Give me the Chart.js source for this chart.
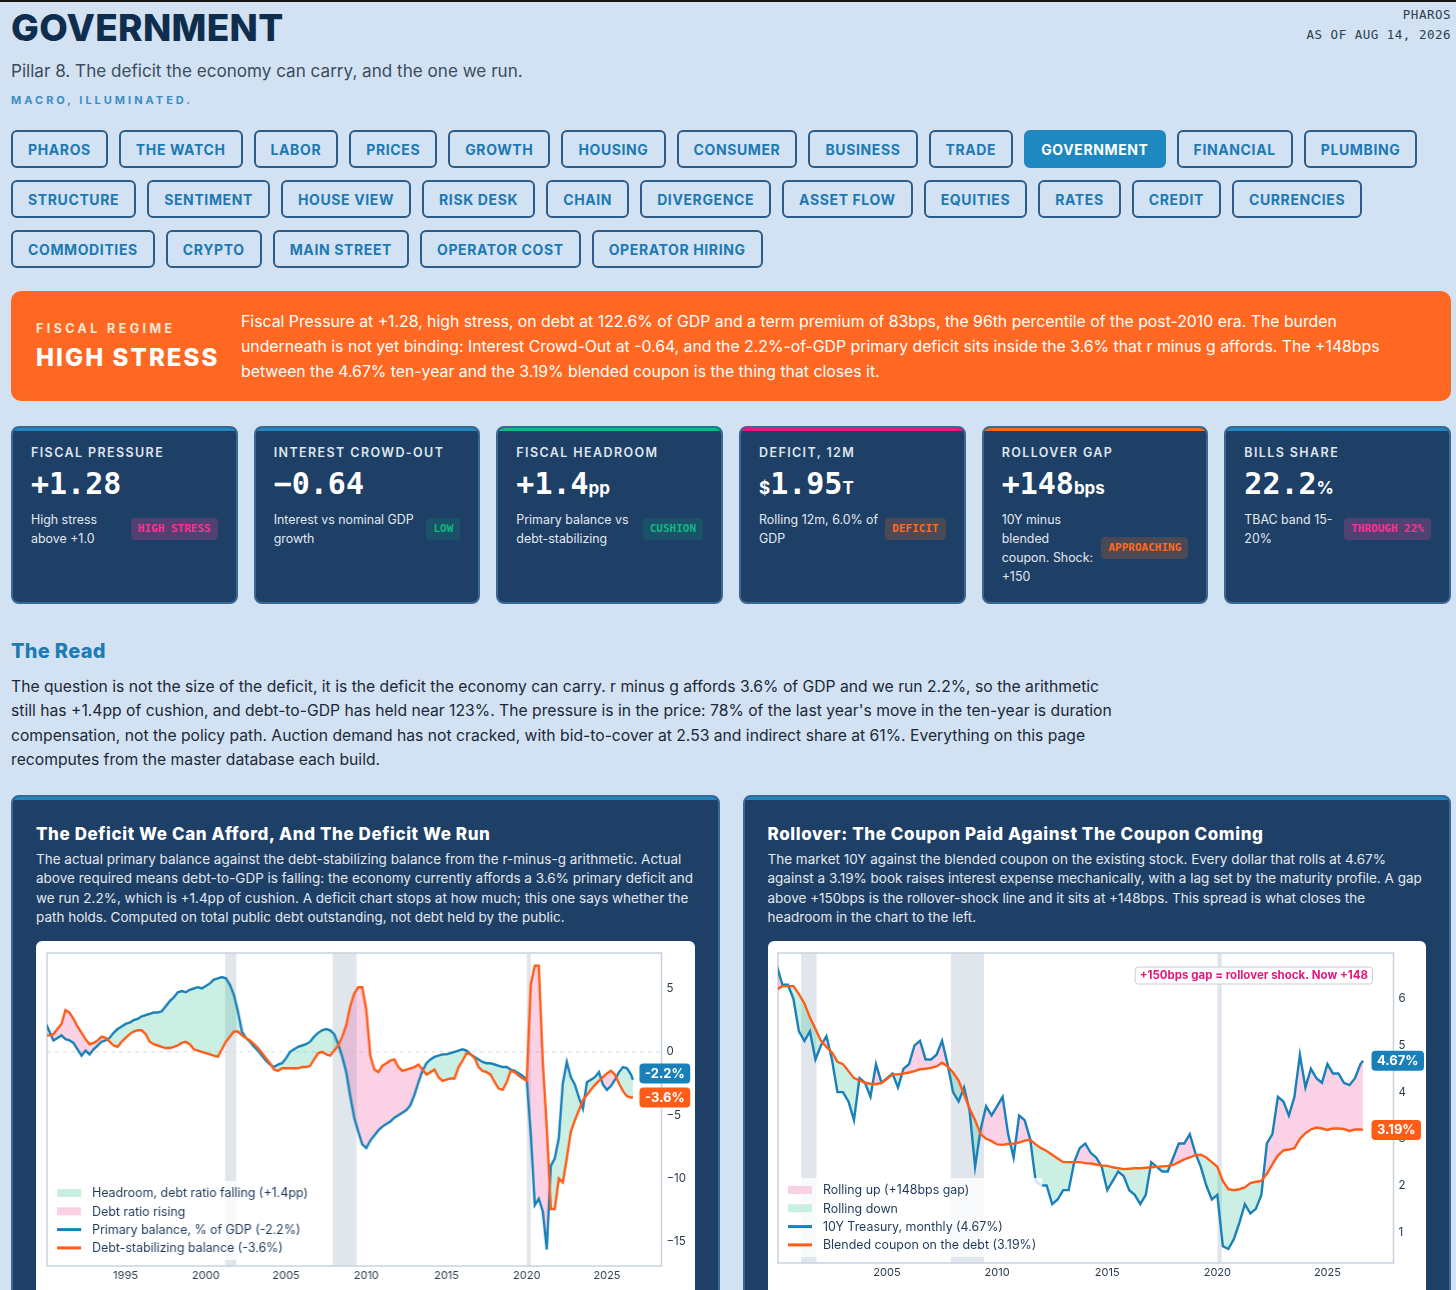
<!DOCTYPE html>
<html lang="en">
<head>
<meta charset="utf-8">
<title>Government</title>
<script src="https://cdn.jsdelivr.net/npm/chart.js@4.4.1/dist/chart.umd.min.js"></script>
<style>
  * { box-sizing: border-box; }
  html, body { margin: 0; padding: 0; }
  body {
    width: 1456px; height: 1290px; overflow: hidden;
    background: #d2e2f2; border-top: 2px solid #151515;
    font-family: Inter, "Noto Sans", sans-serif; color: #1b2838;
  }
  .wrap { margin: 0 5px 0 11px; }

  header { position: relative; height: 128px; }
  header h1 { position: absolute; left: 0; top: 7px; margin: 0; font: 800 37px/37px Inter, sans-serif; color: #0f2d4d; letter-spacing: 0.3px; }
  header .sub { position: absolute; left: 0; top: 59px; margin: 0; font-size: 17.1px; line-height: 20px; color: #3a4c5f; }
  header .tag { position: absolute; left: 0; top: 91px; margin: 0; font: 700 11px/14px Inter, sans-serif; letter-spacing: 3px; color: #3c8dc5; }
  header .stamp { position: absolute; right: 0; top: 3px; text-align: right; font: 12.5px/19.5px "DejaVu Sans Mono", monospace; letter-spacing: 0.5px; color: #2c3e50; }

  .nav-row { display: flex; gap: 11px; margin-bottom: 12px; }
  .nav-row:last-child { margin-bottom: 0; }
  .nav-row span {
    height: 38px; padding: 0 15px; border: 2px solid #2e5c88; border-radius: 6px;
    display: flex; align-items: center; font: 700 14px Inter, sans-serif; letter-spacing: 0.62px; color: #1c79b4;
  }
  .nav-row span.on { background: #1f88c0; border-color: #1f88c0; color: #fff; }

  .regime { margin-top: 23px; height: 110px; border-radius: 10px; background: #ff6822; display: flex; align-items: center; padding: 0 24px 0 25px; color: #fff; }
  .regime .lhs { width: 205px; flex: none; }
  .regime .k { font: 700 12.5px/16px Inter, sans-serif; letter-spacing: 3.4px; color: #ffe6d5; }
  .regime .v { margin-top: 7px; font: 800 24px/28px Inter, sans-serif; letter-spacing: 2.1px; }
  .regime p { margin: 0; font-size: 15.8px; line-height: 25px; }

  .kpis { margin-top: 25px; display: grid; grid-template-columns: repeat(6, 1fr); gap: 16px; }
  .kpi { position: relative; height: 178px; background: #1e3f66; border: 2px solid #3a6895; border-radius: 8px; padding: 17px 18px 0; overflow: hidden; color: #fff; }
  .kpi::before { content: ""; position: absolute; left: 0; right: 0; top: 0; height: 3px; background: var(--c); }
  .kpi .lab { font: 600 12.5px/16px Inter, sans-serif; letter-spacing: 1.4px; color: #dfe6ee; }
  .kpi .num { margin-top: 4.5px; font: 700 30px/36px "DejaVu Sans Mono", monospace; }
  .kpi .num small { font: 700 17px Inter, sans-serif; }
  .kpi .row { margin-top: 8px; display: flex; align-items: center; gap: 6px; }
  .kpi .row p { margin: 0; flex: 1; font-size: 12.4px; line-height: 19px; color: #e3e9f0; }
  .kpi .badge { flex: none; font: 700 11px/12px "DejaVu Sans Mono", monospace; padding: 5px 7px; border-radius: 4px; }
  .pink { color: #ff2e93; background: rgba(236, 72, 153, 0.25); }
  .green { color: #10b981; background: rgba(16, 185, 129, 0.15); }
  .orange { color: #ff6a1f; background: rgba(249, 115, 22, 0.2); }

  .read h2 { margin: 35px 0 0; font: 800 20px/24px Inter, sans-serif; color: #1f7ab5; letter-spacing: 0.3px; }
  .read p { margin: 11.5px 0 0; max-width: 1105px; font-size: 15.7px; line-height: 24.5px; color: #1b2838; }

  .charts { margin-top: 22px; display: grid; grid-template-columns: 1fr 1fr; gap: 23px; }
  .card { position: relative; height: 520px; background: #1e3f66; border: 2px solid #3a6895; border-radius: 8px; padding: 27px 23px 0; overflow: hidden; }
  .card::before { content: ""; position: absolute; left: 0; right: 0; top: 0; height: 3px; background: #1f88c0; }
  .card h3 { margin: 0; font: 800 17px/20px Inter, sans-serif; letter-spacing: 0.6px; color: #fff; }
  .card .desc { margin: 6px 0 0; font-size: 13.5px; line-height: 19.6px; color: #e3e9f0; }
  .panel { position: relative; margin-top: 13px; height: 360px; background: #fff; border-radius: 6px; }
  .panel .box { position: absolute; left: 0; top: 0; right: 0; height: 348px; }
</style>
</head>
<body>
<div class="wrap">
  <header>
    <h1>GOVERNMENT</h1>
    <div class="stamp">PHAROS<br>AS OF AUG 14, 2026</div>
    <p class="sub">Pillar 8. The deficit the economy can carry, and the one we run.</p>
    <p class="tag">MACRO, ILLUMINATED.</p>
  </header>

  <nav>
    <div class="nav-row">
      <span>PHAROS</span><span>THE WATCH</span><span>LABOR</span><span>PRICES</span><span>GROWTH</span><span>HOUSING</span>
      <span>CONSUMER</span><span>BUSINESS</span><span>TRADE</span><span class="on">GOVERNMENT</span><span>FINANCIAL</span><span>PLUMBING</span>
    </div>
    <div class="nav-row">
      <span>STRUCTURE</span><span>SENTIMENT</span><span>HOUSE VIEW</span><span>RISK DESK</span><span>CHAIN</span><span>DIVERGENCE</span>
      <span>ASSET FLOW</span><span>EQUITIES</span><span>RATES</span><span>CREDIT</span><span>CURRENCIES</span>
    </div>
    <div class="nav-row">
      <span>COMMODITIES</span><span>CRYPTO</span><span>MAIN STREET</span><span>OPERATOR COST</span><span>OPERATOR HIRING</span>
    </div>
  </nav>

  <section class="regime">
    <div class="lhs">
      <div class="k">FISCAL REGIME</div>
      <div class="v">HIGH STRESS</div>
    </div>
    <p>Fiscal Pressure at +1.28, high stress, on debt at 122.6% of GDP and a term premium of 83bps, the 96th percentile of the post-2010 era. The burden underneath is not yet binding: Interest Crowd-Out at -0.64, and the 2.2%-of-GDP primary deficit sits inside the 3.6% that r minus g affords. The +148bps between the 4.67% ten-year and the 3.19% blended coupon is the thing that closes it.</p>
  </section>

  <section class="kpis">
    <div class="kpi" style="--c:#1f88c0">
      <div class="lab">FISCAL PRESSURE</div>
      <div class="num">+1.28</div>
      <div class="row"><p>High stress above +1.0</p><span class="badge pink">HIGH STRESS</span></div>
    </div>
    <div class="kpi" style="--c:#1f88c0">
      <div class="lab">INTEREST CROWD-OUT</div>
      <div class="num">&minus;0.64</div>
      <div class="row"><p>Interest vs nominal GDP growth</p><span class="badge green">LOW</span></div>
    </div>
    <div class="kpi" style="--c:#10b981">
      <div class="lab">FISCAL HEADROOM</div>
      <div class="num">+1.4<small>pp</small></div>
      <div class="row"><p>Primary balance vs debt-stabilizing</p><span class="badge green">CUSHION</span></div>
    </div>
    <div class="kpi" style="--c:#e8197a">
      <div class="lab">DEFICIT, 12M</div>
      <div class="num"><small>$</small>1.95<small>T</small></div>
      <div class="row"><p>Rolling 12m, 6.0% of GDP</p><span class="badge orange">DEFICIT</span></div>
    </div>
    <div class="kpi" style="--c:#f26a1b">
      <div class="lab">ROLLOVER GAP</div>
      <div class="num">+148<small>bps</small></div>
      <div class="row"><p>10Y minus blended coupon. Shock: +150</p><span class="badge orange">APPROACHING</span></div>
    </div>
    <div class="kpi" style="--c:#1f88c0">
      <div class="lab">BILLS SHARE</div>
      <div class="num">22.2<small>%</small></div>
      <div class="row"><p>TBAC band 15-20%</p><span class="badge pink">THROUGH 22%</span></div>
    </div>
  </section>

  <section class="read">
    <h2>The Read</h2>
    <p>The question is not the size of the deficit, it is the deficit the economy can carry. r minus g affords 3.6% of GDP and we run 2.2%, so the arithmetic still has +1.4pp of cushion, and debt-to-GDP has held near 123%. The pressure is in the price: 78% of the last year's move in the ten-year is duration compensation, not the policy path. Auction demand has not cracked, with bid-to-cover at 2.53 and indirect share at 61%. Everything on this page recomputes from the master database each build.</p>
  </section>

  <section class="charts">
    <div class="card">
      <h3>The Deficit We Can Afford, And The Deficit We Run</h3>
      <p class="desc">The actual primary balance against the debt-stabilizing balance from the r-minus-g arithmetic. Actual above required means debt-to-GDP is falling: the economy currently affords a 3.6% primary deficit and we run 2.2%, which is +1.4pp of cushion. A deficit chart stops at how much; this one says whether the path holds. Computed on total public debt outstanding, not debt held by the public.</p>
      <div class="panel"><div class="box"><canvas id="deficitChart"></canvas></div></div>
    </div>
    <div class="card">
      <h3>Rollover: The Coupon Paid Against The Coupon Coming</h3>
      <p class="desc">The market 10Y against the blended coupon on the existing stock. Every dollar that rolls at 4.67% against a 3.19% book raises interest expense mechanically, with a lag set by the maturity profile. A gap above +150bps is the rollover-shock line and it sits at +148bps. This spread is what closes the headroom in the chart to the left.</p>
      <div class="panel"><div class="box"><canvas id="rolloverChart"></canvas></div></div>
    </div>
  </section>
</div>

<script>
// quarterly time axis, last point is the Aug-2026 print
const deficitYears = [];
for (let q = 0; q <= 146; q++) deficitYears.push(1990 + q / 4);
deficitYears.push(2026.62);

// primary balance, % of GDP
const primaryBalance = [
  2.3, 1.6, 0.9, 1.1,   1.3, 1.0, 0.9, 0.7,   0.2, -0.3, 0.1, -0.2,   0.2, 0.5, 0.8, 0.9,
  1.1, 1.5, 1.8, 2.0,   2.2, 2.3, 2.5, 2.6,   2.8, 2.9, 3.0, 3.1,   3.1, 3.2, 3.6, 4.0,
  4.3, 4.7, 4.8, 4.7,   4.9, 5.0, 5.1, 5.0,   5.2, 5.4, 5.7, 5.8,   5.9, 5.8, 5.3, 4.5,
  3.2, 1.6, 1.1, 0.8,   0.4, 0.1, -0.3, -0.7,  -1.0, -1.2, -1.0, -0.9,  -0.5, 0.0, 0.2, 0.4,
  0.5, 0.6, 0.8, 1.2,   1.5, 1.7, 1.8, 1.7,   1.4, 0.6, -0.4, -1.6,  -3.5, -5.2, -6.3, -7.3,
  -7.6, -7.0, -6.6, -6.2,  -5.9, -5.7, -5.5, -5.2,  -5.0, -4.8, -4.6, -4.2,  -3.4, -2.4, -1.5, -0.9,
  -0.6, -0.4, -0.3, -0.2,  -0.2, -0.1, 0.0, 0.1,  0.2, 0.1, -0.2, -0.4,  -0.6, -0.8, -0.9, -0.9,
  -1.0, -1.1, -1.2, -1.2,  -1.4, -1.5, -1.7, -1.9,  -2.2, -6.5, -12.1, -11.6,  -12.6, -15.6, -9.0, -8.4,
  -6.8, -2.5, -0.8, -2.0,  -2.6, -3.6, -4.5, -2.4,  -2.2, -2.0, -1.6, -2.6,  -3.0, -2.7, -2.2, -1.6,
  -1.2, -1.3, -1.8, -2.2
];

// debt-stabilizing primary balance from r minus g, % of GDP
const stabilizingBalance = [
  1.3, 1.3, 1.4, 1.8,   2.2, 3.3, 3.1, 2.6,   2.0, 1.5, 1.0, 0.6,   0.7, 0.9, 1.2, 1.1,
  0.8, 0.5, 0.4, 0.8,   1.1, 1.4, 1.6, 1.7,   1.7, 1.4, 0.8, 0.6,   0.5, 0.4, 0.3, 0.3,
  0.4, 0.5, 0.7, 0.8,   0.6, 0.2, 0.1, 0.0,   -0.1, -0.2, -0.3, -0.4,  0.2, 0.8, 1.2, 1.6,
  1.6, 1.3, 1.1, 0.9,   0.6, 0.3, -0.1, -0.5,  -0.9, -1.4, -1.5, -1.3,  -1.3, -1.3, -1.3, -1.3,
  -1.2, -1.2, -1.1, -0.6,  -0.1, 0.0, -0.2, -0.3,  0.1, 0.5, 1.2, 2.1,   3.6, 4.6, 5.1, 5.1,
  3.3, -0.3, -1.4, -1.6,  -1.1, -0.9, -0.7, -0.6,  -1.2, -1.5, -1.4, -1.3,  -1.2, -1.0, -1.4, -1.8,
  -1.6, -1.4, -2.0, -2.3,  -2.2, -2.1, -2.1, -1.2,  -0.7, -0.1, -0.2, -0.5,  -1.2, -1.5, -1.6, -1.8,
  -2.4, -2.9, -3.0, -2.4,  -1.5, -1.6, -1.9, -2.1,  -2.3, 5.3, 6.8, 6.8,   -0.8, -6.0, -12.4, -12.4,
  -10.0, -10.3, -8.4, -6.3,  -5.4, -4.6, -3.8, -3.4,  -3.0, -2.6, -2.3, -2.0,  -1.7, -1.5, -1.8, -2.5,
  -3.1, -3.5, -3.6, -3.6
];

const deficitYearTicks = [1995, 2000, 2005, 2010, 2015, 2020, 2025];
const deficitValueTicks = [5, 0, -5, -10, -15];
const deficitRecessions = [[2001.2, 2001.9], [2007.9, 2009.4], [2020.0, 2020.25]];
const deficitLegend = [
  "Headroom, debt ratio falling (+1.4pp)",
  "Debt ratio rising",
  "Primary balance, % of GDP (-2.2%)",
  "Debt-stabilizing balance (-3.6%)"
];

const rolloverYears = [];
for (let q = 0; q <= 106; q++) rolloverYears.push(2000 + q / 4);
rolloverYears.push(2026.62);

// 10Y Treasury yield, %
const treasury10y = [
  6.7, 6.3, 6.3, 6.0,   5.3, 5.1, 5.3, 4.7,   5.0, 5.2, 4.7, 4.0,   4.0, 3.8, 3.4, 4.3,
  4.2, 3.9, 4.6, 4.2,   4.3, 4.4, 4.1, 4.5,   4.6, 5.0, 5.1, 4.7,   4.7, 4.8, 5.1, 4.6,
  4.0, 3.8, 4.1, 3.6,   2.4, 3.2, 3.7, 3.5,   3.7, 3.9, 3.1, 2.6,   3.5, 3.4, 3.0, 2.1,
  2.0, 2.0, 1.6, 1.7,   1.9, 1.9, 2.5, 2.8,   2.9, 2.7, 2.6, 2.4,   1.9, 2.1, 2.3, 2.2,
  1.9, 1.8, 1.6, 1.8,   2.5, 2.4, 2.3, 2.3,   2.6, 2.9, 2.9, 3.1,   2.7, 2.4, 2.0, 1.7,
  1.8, 0.7, 0.64, 0.85,  1.2, 1.6, 1.4, 1.5,  1.8, 2.9, 3.1, 3.9,   3.8, 3.5, 3.9, 4.8,
  4.1, 4.5, 4.3, 4.2,   4.6, 4.4, 4.4, 4.2,   4.15, 4.3, 4.6, 4.67
];

// blended coupon on the outstanding debt, %
const blendedCoupon = [
  6.2, 6.27, 6.27, 6.27,  6.1, 5.9, 5.6, 5.35,  5.1, 4.97, 4.85, 4.65,  4.6, 4.45, 4.3, 4.25,
  4.2, 4.18, 4.17, 4.2,  4.28, 4.38, 4.38, 4.4,  4.42, 4.45, 4.49, 4.5,  4.52, 4.55, 4.63, 4.55,
  4.42, 4.25, 3.95, 3.65,  3.4, 3.1, 3.0, 2.95,  2.88, 2.87, 2.89, 2.9,  2.92, 2.96, 2.98, 2.88,
  2.8, 2.74, 2.66, 2.58,  2.5, 2.5, 2.5, 2.5,  2.48, 2.47, 2.45, 2.43,  2.42, 2.39, 2.37, 2.35,
  2.36, 2.37, 2.37, 2.38,  2.39, 2.4, 2.41, 2.42,  2.44, 2.5, 2.56, 2.6,  2.65, 2.66, 2.6, 2.5,
  2.4, 2.1, 1.92, 1.9,  1.92, 1.96, 2.05, 2.08,  2.1, 2.25, 2.45, 2.64,  2.75, 2.77, 2.8, 3.0,
  3.12, 3.2, 3.24, 3.22,  3.19, 3.22, 3.22, 3.21,  3.17, 3.2, 3.2, 3.19
];

const rolloverYearTicks = [2005, 2010, 2015, 2020, 2025];
const rolloverValueTicks = [1, 2, 3, 4, 5, 6];
const rolloverRecessions = [[2001.1, 2001.8], [2007.9, 2009.4], [2020.0, 2020.2]];
const rolloverLegend = [
  "Rolling up (+148bps gap)",
  "Rolling down",
  "10Y Treasury, monthly (4.67%)",
  "Blended coupon on the debt (3.19%)"
];

const BLUE = "#1a80b9";
const ORANGE = "#ff5d17";
const GREEN_FILL = "rgba(16, 185, 129, 0.22)";
const PINK_FILL = "rgba(236, 72, 153, 0.25)";

function roundRect(ctx, x, y, w, h, r) {
  ctx.beginPath();
  ctx.moveTo(x + r, y);
  ctx.arcTo(x + w, y, x + w, y + h, r);
  ctx.arcTo(x + w, y + h, x, y + h, r);
  ctx.arcTo(x, y + h, x, y, r);
  ctx.arcTo(x, y, x + w, y, r);
  ctx.closePath();
}

// recession bands, frame, in-plot legend, end-of-line tags
const panelDecor = {
  id: "panelDecor",
  beforeDraw(chart, args, o) {
    const { ctx, chartArea: a, scales: { x, y } } = chart;
    ctx.save();
    ctx.fillStyle = "#e1e6ec";
    o.bands.forEach(([from, to]) => {
      const x0 = x.getPixelForValue(from), x1 = x.getPixelForValue(to);
      ctx.fillRect(x0, a.top, x1 - x0, a.height);
    });
    if (o.zeroLine) {
      const y0 = y.getPixelForValue(0);
      ctx.strokeStyle = "#d5dbe2";
      ctx.lineWidth = 1;
      ctx.setLineDash([4, 4]);
      ctx.beginPath();
      ctx.moveTo(a.left, y0);
      ctx.lineTo(a.right, y0);
      ctx.stroke();
      ctx.setLineDash([]);
    }
    ctx.strokeStyle = "#c8d3df";
    ctx.lineWidth = 1.5;
    ctx.strokeRect(a.left, a.top, a.width, a.height);
    ctx.restore();
  },
  afterDatasetsDraw(chart, args, o) {
    const { ctx, chartArea: a } = chart;
    ctx.save();
    ctx.font = "12.4px Inter";
    const lx = a.left + 10, tx = lx + 35;
    const widest = Math.max(...o.legend.map(t => ctx.measureText(t).width));
    const firstRow = a.bottom - 73;
    ctx.fillStyle = "rgba(255, 255, 255, 0.8)";
    ctx.fillRect(a.left + 2, firstRow - 12, tx + widest + 6 - a.left - 2, 18.3 * 3 + 24);
    o.legend.forEach((text, i) => {
      const ry = firstRow + i * 18.3;
      const swatch = o.swatches[i];
      if (swatch.box) {
        ctx.fillStyle = swatch.box;
        ctx.fillRect(lx, ry - 4, 24, 8);
      } else {
        ctx.strokeStyle = swatch.line;
        ctx.lineWidth = 3;
        ctx.beginPath();
        ctx.moveTo(lx, ry);
        ctx.lineTo(lx + 24, ry);
        ctx.stroke();
      }
      ctx.fillStyle = "#1e3a5a";
      ctx.textBaseline = "middle";
      ctx.fillText(text, tx, ry + 0.5);
    });
    ctx.restore();
  },
  afterDraw(chart, args, o) {
    const { ctx, chartArea: a, scales: { y } } = chart;
    ctx.save();
    if (o.note) {
      ctx.font = "bold 11.5px Inter";
      const w = ctx.measureText(o.note).width + 9;
      const nx = a.right - 21 - w, ny = a.top + 14;
      roundRect(ctx, nx, ny, w, 17, 3);
      ctx.fillStyle = "#fff";
      ctx.fill();
      ctx.strokeStyle = "#c5d0dc";
      ctx.lineWidth = 1;
      ctx.stroke();
      ctx.fillStyle = "#e5177b";
      ctx.textBaseline = "middle";
      ctx.fillText(o.note, nx + 4.5, ny + 9);
    }
    const tags = o.tags.map(t => Object.assign({}, t, { py: y.getPixelForValue(t.value) }));
    tags.sort((p, q) => p.py - q.py);
    for (let i = tags.length - 2; i >= 0; i--) {
      if (tags[i + 1].py - tags[i].py < 24) tags[i].py = tags[i + 1].py - 24;
    }
    ctx.font = "bold 13px Inter";
    tags.forEach(t => {
      const w = ctx.measureText(t.text).width + 11;
      const bx = a.right - 22;
      roundRect(ctx, bx, t.py - 10, w, 20, 4);
      ctx.fillStyle = t.color;
      ctx.fill();
      ctx.fillStyle = "#fff";
      ctx.textBaseline = "middle";
      ctx.fillText(t.text, bx + 5.5, t.py + 0.5);
    });
    ctx.restore();
  }
};

function axes(xMin, xMax, yMin, yMax, xTicks, yTicks, yWidth) {
  const tickFont = { family: "Inter", size: 11 };
  return {
    x: {
      type: "linear", min: xMin, max: xMax,
      grid: { display: false, drawTicks: false }, border: { display: false },
      ticks: { color: "#2b3b4c", font: tickFont, padding: 3, maxRotation: 0, autoSkip: false, callback: v => String(v) },
      afterBuildTicks: s => { s.ticks = xTicks.map(v => ({ value: v })); },
      afterFit: s => { s.height = 19; }
    },
    y: {
      position: "right", min: yMin, max: yMax,
      grid: { display: false, drawTicks: false }, border: { display: false },
      ticks: { color: "#2b3b4c", font: { family: "Inter", size: 11.5 }, padding: 5, autoSkip: false,
               callback: v => v < 0 ? "\u2212" + Math.abs(v) : String(v) },
      afterBuildTicks: s => { s.ticks = yTicks.map(v => ({ value: v })); },
      afterFit: s => { s.width = yWidth; }
    }
  };
}

function lineSet(label, years, values, color, fill) {
  return {
    label,
    data: years.map((yr, i) => ({ x: yr, y: values[i] })),
    borderColor: color,
    borderWidth: 2.4,
    pointRadius: 0,
    tension: 0,
    fill: fill || false
  };
}

new Chart(document.getElementById("deficitChart"), {
  type: "line",
  data: {
    datasets: [
      Object.assign(lineSet("Primary balance, % of GDP", deficitYears, primaryBalance, BLUE,
        { target: 1, above: GREEN_FILL, below: PINK_FILL }), { order: 1 }),
      Object.assign(lineSet("Debt-stabilizing balance", deficitYears, stabilizingBalance, ORANGE), { order: 0 })
    ]
  },
  options: {
    responsive: true, maintainAspectRatio: false, animation: false, events: [],
    layout: { padding: { left: 11, top: 12, right: 0, bottom: 4 } },
    scales: axes(1990.1, 2028.4, -16.9, 7.8, deficitYearTicks, deficitValueTicks, 34),
    plugins: {
      legend: { display: false },
      tooltip: { enabled: false },
      filler: { drawTime: "beforeDatasetsDraw" },
      panelDecor: {
        bands: deficitRecessions,
        zeroLine: true,
        legend: deficitLegend,
        swatches: [{ box: "#c8efe0" }, { box: "#fbd0e4" }, { line: BLUE }, { line: ORANGE }],
        tags: [
          { value: primaryBalance[primaryBalance.length - 1], text: "-2.2%", color: BLUE },
          { value: stabilizingBalance[stabilizingBalance.length - 1], text: "-3.6%", color: ORANGE }
        ]
      }
    }
  },
  plugins: [panelDecor]
});

new Chart(document.getElementById("rolloverChart"), {
  type: "line",
  data: {
    datasets: [
      Object.assign(lineSet("10Y Treasury, monthly", rolloverYears, treasury10y, BLUE,
        { target: 1, above: PINK_FILL, below: GREEN_FILL }), { order: 1 }),
      Object.assign(lineSet("Blended coupon on the debt", rolloverYears, blendedCoupon, ORANGE), { order: 0 })
    ]
  },
  options: {
    responsive: true, maintainAspectRatio: false, animation: false, events: [],
    layout: { padding: { left: 10, top: 12, right: 0, bottom: 7 } },
    scales: axes(2000.05, 2028.0, 0.34, 6.98, rolloverYearTicks, rolloverValueTicks, 33),
    plugins: {
      legend: { display: false },
      tooltip: { enabled: false },
      filler: { drawTime: "beforeDatasetsDraw" },
      panelDecor: {
        bands: rolloverRecessions,
        zeroLine: false,
        note: "+150bps gap = rollover shock. Now +148",
        legend: rolloverLegend,
        swatches: [{ box: "#fbd0e4" }, { box: "#c8efe0" }, { line: BLUE }, { line: ORANGE }],
        tags: [
          { value: treasury10y[treasury10y.length - 1], text: "4.67%", color: BLUE },
          { value: blendedCoupon[blendedCoupon.length - 1], text: "3.19%", color: ORANGE }
        ]
      }
    }
  },
  plugins: [panelDecor]
});
</script>
</body>
</html>
